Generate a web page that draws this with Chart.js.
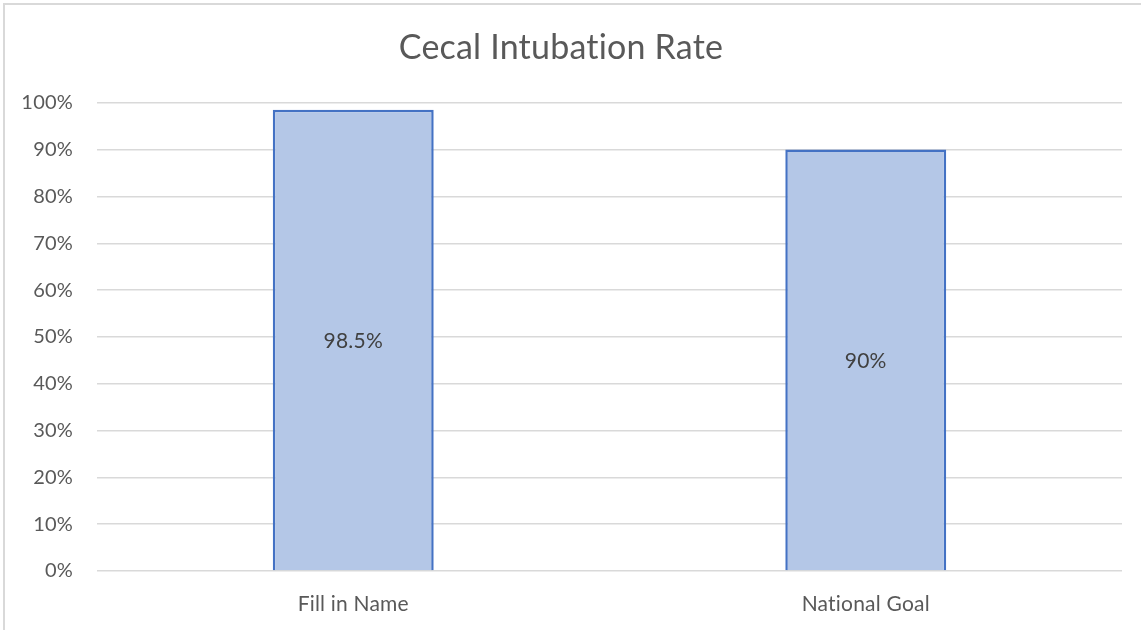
<!DOCTYPE html>
<html>
<head>
<meta charset="utf-8">
<script src="https://cdn.jsdelivr.net/npm/chart.js@4"></script>
<style>
  html, body { margin: 0; padding: 0; background: #fff; overflow: hidden; }
  #frame {
    position: absolute; left: 3px; top: 3px;
    width: 1160px; height: 700px;
    border: 2px solid #d9d9d9;
  }
  #wrap { position: absolute; left: 0; top: 0; width: 1141px; height: 630px; }
</style>
</head>
<body>
<div id="frame"></div>
<div id="wrap"><canvas id="chart" width="1141" height="630"></canvas></div>
<script>
  const categories = ["Fill in Name", "National Goal"];
  const rates = [98.5, 90];
  const valueLabels = ["98.5%", "90%"];

  const textColor = "#595959";
  const fontFamily = "Lato, 'Open Sans', sans-serif";

  // tiny letter spacing switches off the "ti" ligature in Lato
  const noLigatures = {
    id: "noLigatures",
    beforeDraw(chart) {
      if ("letterSpacing" in chart.ctx) chart.ctx.letterSpacing = "0.2px";
    }
  };

  // Data labels in the middle of each bar
  const barLabels = {
    id: "barLabels",
    afterDatasetsDraw(chart) {
      const ctx = chart.ctx;
      const meta = chart.getDatasetMeta(0);
      ctx.save();
      ctx.fillStyle = "#404040";
      ctx.font = "21px " + fontFamily;
      ctx.textAlign = "center";
      ctx.textBaseline = "middle";
      meta.data.forEach((bar, i) => {
        const p = bar.getProps(["x", "y", "base"], true);
        ctx.fillText(valueLabels[i], p.x, (p.y + p.base) / 2 + 1);
      });
      ctx.restore();
    }
  };

  new Chart(document.getElementById("chart").getContext("2d"), {
    type: "bar",
    data: {
      labels: categories,
      datasets: [{
        data: rates,
        backgroundColor: "#B4C7E7",
        borderColor: "#4472C4",
        borderWidth: 2.5,
        categoryPercentage: 1,
        barPercentage: 0.314
      }]
    },
    options: {
      responsive: false,
      animation: false,
      layout: { padding: { left: 0, right: 19, top: 0, bottom: 0 } },
      plugins: {
        legend: { display: false },
        tooltip: { enabled: false },
        title: {
          display: true,
          text: "Cecal Intubation Rate",
          color: textColor,
          font: { family: fontFamily, size: 34, weight: "normal" },
          padding: { top: 28, bottom: 34 }
        }
      },
      scales: {
        y: {
          min: 0,
          max: 100,
          ticks: {
            stepSize: 10,
            padding: 24,
            color: textColor,
            font: { family: fontFamily, size: 20 },
            callback: v => v + "%"
          },
          grid: { color: "#d9d9d9", lineWidth: 1.5, drawTicks: false },
          border: { display: false },
          afterFit: s => { s.width = 97; }
        },
        x: {
          ticks: {
            padding: 21,
            color: textColor,
            font: { family: fontFamily, size: 21 }
          },
          grid: { display: false, drawTicks: false },
          border: { display: false },
          afterFit: s => { s.height = 59; }
        }
      }
    },
    plugins: [noLigatures, barLabels]
  });
</script>
</body>
</html>
